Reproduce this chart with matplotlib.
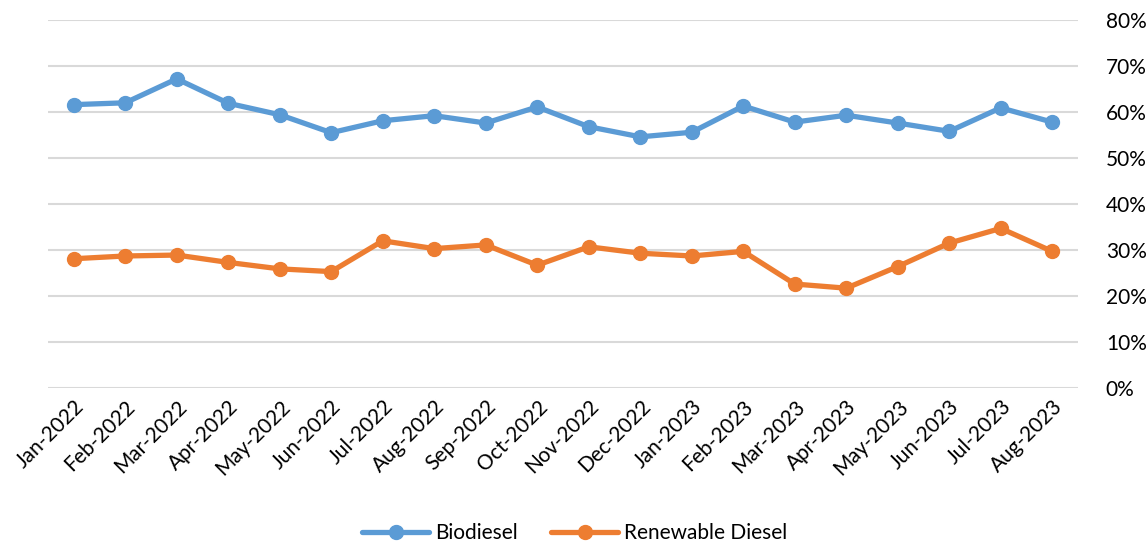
import matplotlib
matplotlib.use("Agg")
import matplotlib.pyplot as plt
from matplotlib.ticker import PercentFormatter

months = ["Jan-2022", "Feb-2022", "Mar-2022", "Apr-2022", "May-2022", "Jun-2022",
          "Jul-2022", "Aug-2022", "Sep-2022", "Oct-2022", "Nov-2022", "Dec-2022",
          "Jan-2023", "Feb-2023", "Mar-2023", "Apr-2023", "May-2023", "Jun-2023",
          "Jul-2023", "Aug-2023"]
biodiesel = [61.6, 62.0, 67.2, 61.9, 59.4, 55.5, 58.1, 59.2, 57.6, 61.1,
             56.8, 54.6, 55.6, 61.3, 57.8, 59.3, 57.6, 55.8, 60.9, 57.8]
renewable_diesel = [28.1, 28.7, 28.9, 27.3, 25.9, 25.3, 32.0, 30.3, 31.1, 26.7,
                    30.7, 29.3, 28.7, 29.7, 22.6, 21.7, 26.4, 31.5, 34.7, 29.7]

plt.rcParams['font.family'] = ['Lato', 'DejaVu Sans']

W, H = 1148, 546
fig = plt.figure(figsize=(W / 100, H / 100), dpi=100)
ax = fig.add_axes([48 / W, (H - 388) / H, (1078 - 48) / W, (388 - 20) / H])

x = list(range(len(months)))
ax.plot(x, biodiesel, color="#5B9BD5", lw=3.8, marker="o", ms=10, label="Biodiesel",
        solid_capstyle="round", zorder=3)
ax.plot(x, renewable_diesel, color="#ED7D31", lw=3.8, marker="o", ms=10,
        label="Renewable Diesel", solid_capstyle="round", zorder=3)

ax.set_xlim(-0.5, len(months) - 0.5)
ax.set_ylim(0, 80)
ax.set_yticks(range(0, 81, 10))
ax.yaxis.set_major_formatter(PercentFormatter(decimals=0))
ax.yaxis.tick_right()
ax.grid(axis="y", color="#D9D9D9", lw=1.5, zorder=0)
ax.set_axisbelow(True)
for s in ax.spines.values():
    s.set_visible(False)
ax.tick_params(axis="both", length=0, labelsize=15, colors="#000000")
ax.tick_params(axis="y", pad=20)
ax.set_xticks(x)
ax.set_xticklabels(months, rotation=45, ha="right", rotation_mode="anchor", fontsize=15)
ax.tick_params(axis="x", pad=6)

fig.legend(loc="center", bbox_to_anchor=(575 / W, 1 - 533 / H), ncol=2, frameon=False,
           fontsize=15, handlelength=3.2, columnspacing=1.6, handletextpad=0.3)

fig.savefig("out.png", dpi=100)
